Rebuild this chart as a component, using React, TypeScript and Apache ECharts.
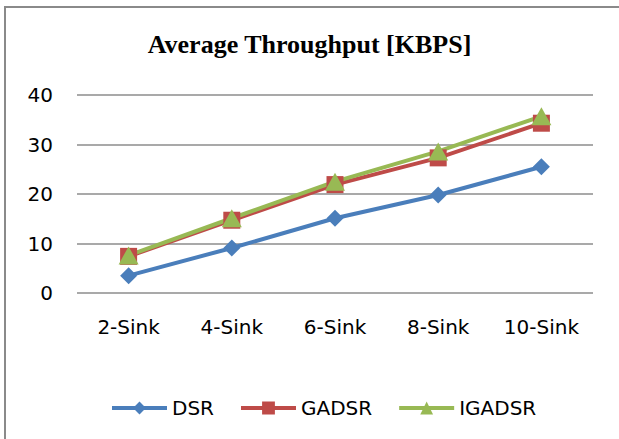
import React, { useEffect, useRef } from "react";
import * as echarts from "echarts";

const categories = ["2-Sink", "4-Sink", "6-Sink", "8-Sink", "10-Sink"];
const dsr = [3.5, 9.1, 15.1, 19.8, 25.5];
const gadsr = [7.4, 14.7, 21.9, 27.3, 34.3];
const igadsr = [7.6, 15.1, 22.5, 28.6, 35.7];
const seriesNames = ["DSR", "GADSR", "IGADSR"];
const titleText = "Average Throughput [KBPS]";

const FONT = "'DejaVu Sans', sans-serif";

export default function App() {
  const ref = useRef<HTMLDivElement>(null);
  useEffect(() => {
    if (!ref.current) return;
    const chart = echarts.init(ref.current, undefined, { renderer: "svg" });
    const mk = (name: string, data: number[], color: string, symbol: string, size: any) => ({
      name,
      type: "line",
      data,
      symbol,
      symbolSize: size,
      lineStyle: { color, width: 4 },
      itemStyle: { color },
      emphasis: { disabled: true },
    });
    chart.setOption({
      animation: false,
      backgroundColor: "#ffffff",
      title: {
        text: titleText,
        left: "center",
        top: 26,
        textStyle: {
          fontFamily: "'Liberation Serif', 'Times New Roman', serif",
          fontWeight: "bold",
          fontSize: 26,
          color: "#000000",
        },
      },
      graphic: [
        { type: "line", shape: { x1: 4, y1: 7, x2: 619, y2: 7 }, style: { stroke: "#8a8a8a", lineWidth: 2 } },
        { type: "line", shape: { x1: 5, y1: 6, x2: 5, y2: 439 }, style: { stroke: "#8a8a8a", lineWidth: 2 } },
      ],
      legend: {
        left: 105,
        top: 393,
        itemWidth: 55,
        itemHeight: 16,
        itemGap: 25,
        data: seriesNames,
        lineStyle: { width: 4 },
        textStyle: { fontFamily: FONT, fontSize: 20, color: "#000000" },
      },
      grid: { left: 77, right: 26, top: 95, bottom: 146, containLabel: false },
      xAxis: {
        type: "category",
        data: categories,
        boundaryGap: true,
        axisLine: { show: false },
        axisTick: { show: false },
        axisLabel: { fontFamily: FONT, fontSize: 20, color: "#000000", margin: 24 },
      },
      yAxis: {
        type: "value",
        min: 0,
        max: 40,
        interval: 10,
        axisLine: { show: false },
        axisTick: { show: false },
        axisLabel: { fontFamily: FONT, fontSize: 20, color: "#000000", margin: 24 },
        splitLine: { lineStyle: { color: "#8c8c8c", width: 1.5 } },
      },
      series: [
        mk(seriesNames[0], dsr, "#4a7ebb", "diamond", 17),
        mk(seriesNames[1], gadsr, "#be4b48", "rect", 17),
        mk(seriesNames[2], igadsr, "#98b954", "triangle", [20, 18]),
      ],
    });
    return () => chart.dispose();
  }, []);
  return (
    <div
      ref={ref}
      style={{ position: "fixed", left: 0, top: 0, width: 619, height: 439, background: "#fff" }}
    />
  );
}
